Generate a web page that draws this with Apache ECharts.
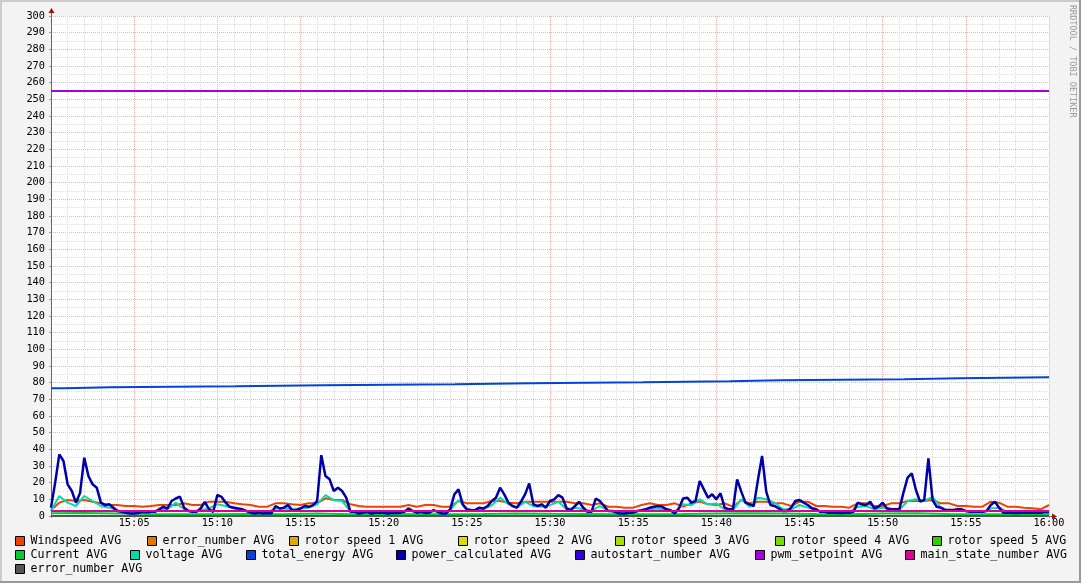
<!DOCTYPE html>
<html>
<head>
<meta charset="utf-8">
<script src="https://cdn.jsdelivr.net/npm/echarts@6/dist/echarts.min.js"></script>
<style>
html,body{margin:0;padding:0;background:#f3f3f3;}
#chart{width:1081px;height:583px;}
</style>
</head>
<body>
<div id="chart"></div>
<script>
// ---------------- DATA ----------------
// time axis: minutes after 15:00
const xTickLabels = ['15:05','15:10','15:15','15:20','15:25','15:30','15:35','15:40','15:45','15:50','15:55','16:00'];
const seriesNames = ['Windspeed AVG','error_number AVG','rotor speed 1 AVG','rotor speed 2 AVG','rotor speed 3 AVG','rotor speed 4 AVG','rotor speed 5 AVG','Current AVG','voltage AVG','total_energy AVG','power_calculated AVG','autostart_number AVG','pwm_setpoint AVG','main_state_number AVG','error_number AVG #2'];
const seriesColors = ['#ee4400','#dd7700','#ddaa00','#dddd00','#aadd00','#77dd00','#33cc00','#00cc33','#00ddaa','#0044dd','#0000aa','#3300dd','#aa00dd','#dd0099','#555555'];

// power_calculated, one value every 0.25 min
const powerStep = 0.25;
const powerCalculated = [
5,20,37,33, 19,15,8,14, 35,24,19,17, 8,6.5,7,5,
3,2.5,2,1.5, 1.5,1.8,2.5,2.2, 2.5,2.5,4,5.5, 4.5,9,10.5,11.6,
5,3,2.5,2.5, 4.5,8.5,4,2.5, 12.6,11.5,8,5.5, 5,4.5,4,3,
2,1.5,2,1.5, 1.8,1.5,6,4.5, 5,6.5,3.5,3.5, 4.5,6,5.5,6.5,
9,36.5,24,22, 15,17,15,11, 2.5,2.5,1.5,2, 2.5,1.5,2,2,
2,1.5,2,1.8, 2,2.5,4.5,3, 2,2.5,1.8,2, 3.5,2.5,1.5,1.5,
4,13,16,7, 4,3.5,3.5,5, 4.5,6,9,11, 17,13,8,6,
5,8.5,13,19.5, 7,6,7,5, 9,10,12.5,11, 4.5,3.5,6,8.5,
5,2.5,2.5,10.5, 9,6,3,3, 2,1.5,1.5,2, 2,3,3.5,4,
5,5.5,6,5.5, 4,3.5,1.5,4.5, 10.5,11,8,9, 21,16,11,13,
10,13.6,5,4, 4,22,14.6,8, 7,6,21.6,36, 14.6,6.6,6,4.6,
3,3,5,9, 9.6,8,6.6,4.6, 4,2.5,2.5,2, 2,2,1.8,2,
2,2.5,8,7, 6.5,8.6,4.6,5.6, 8,4.6,4,4, 4,14,23,25.6,
15.6,8.6,9.6,34.6, 9.6,5.5,5,3.6, 3.6,3.6,4,4, 3,2.5,2.5,2.5,
2.5,3,6.6,8.6, 5,2,2,2, 1.8,2,2,2, 2,2,2,2.5,
2.5
];

// voltage and windspeed, one value every 0.5 min
const halfStep = 0.5;
const voltage = [
3,12,8,6,12,9,6,5,3.5,2.5,
2.5,2.5,2.5,3.5,4,8,4,3,3.5,4.5,
7,6,4.5,3.5,2.5,2.5,2.5,4.5,4.5,4,
4.5,5,7,12.5,9.5,9,3,2.5,2.5,2.5,
2.5,2.5,2.5,3.5,2.5,2.5,3,2.5,3.5,9.5,
4,3.5,4,6.5,11,7,5,8.5,6,5.5,
6.5,8.5,4,5,4,3,6,3,2.5,2.5,
2.5,3,4,4.5,3.5,2.5,7,6.5,10,7,
7.5,4,3.5,10,5.5,11,10,8,4,4,
6.6,5,3.5,2.5,2.5,2.5,2.5,5.5,6,4,
5,3.5,3.5,9,10,9,11.5,5,3,3.5,
3,2.5,2.5,4.5,5,2.5,2.5,2.5,2.5,2.5,
2.5
];
const windspeed = [
3.6,8,9.6,9,9.6,8.6,7.6,6.6,6.6,6,
6,5.6,6,6.6,6.6,6.6,7.6,6.6,6.6,8.6,
8.6,8.6,7.6,7,6.6,5.6,5.6,7.6,7.6,7,
6.6,7.6,7.6,10.6,9.6,9.6,7,6,5.6,5.6,
5.6,5.6,5.6,6.6,5.6,6.6,6.6,5.6,5.6,9,
7.6,7.6,7.6,9,9,8,7.6,8.6,8.6,8.6,
8.6,8.6,8.6,7.6,7.6,6.6,7.6,5.6,5.6,5,
5,6.6,7.6,6.6,6.6,7.6,5.6,7.6,8.6,7,
6.6,7.6,5.6,9.6,7.6,8.6,8.6,7.6,7.6,6,
8.6,8.6,6,6,5.6,5.6,5,7.6,7.6,6,
6,7.6,7.6,9,9,9,9.6,7.6,7.6,6,
6,5.6,5.6,8.6,8,5.6,5.6,5,4.6,4,
6.6
];

// current, one value every 2 min
const twoStep = 2;
const current = [1.6,1.8,1.5,1.2,1.0,1.0,1.2,1.0,1.5,1.0,1.2,1.0,1.0,1.2,1.5,1.3,1.2,1.0,1.0,1.2,1.5,1.6,1.5,1.2,1.0,1.5,1.6,1.2,1.0,1.0,1.2];

// constant-ish series, one value every 10 min
const tenStep = 10;
const pwmSetpoint = [255,255,255,255,255,255,255];
const mainState = [3,3,3,3,3,3,3];
const errorNumber = [0,0,0,0,0,0,0];
const rotorSpeed1 = [0,0,0,0,0,0,0];
const rotorSpeed2 = [0,0,0,0,0,0,0];
const rotorSpeed3 = [0,0,0,0,0,0,0];
const rotorSpeed4 = [0,0,0,0,0,0,0];
const rotorSpeed5 = [0,0,0,0,0,0,0];
const autostart = [0,0,0,0,0,0,0];
const errorNumber2 = [0,0,0,0,0,0,0];

// total_energy: change points (minute, value)
const energyTimes = [0,0.8,3.6,11.1,16.4,24.3,28.8,35.6,40.8,43.8,51.3,54.6,60];
const energyValues = [76.6,77.2,77.8,78.4,79.0,79.6,80.2,80.8,81.4,82.0,82.6,83.2,83.2];

// ---------------- LAYOUT ----------------
const G = {left:51, right:32, top:16, bottom:67};
const legendRows = [535, 549, 563];
const legendPos = [
  [15,0],[147,0],[289,0],[458,0],[615,0],[775,0],[932,0],
  [15,1],[130,1],[246,1],[396,1],[575,1],[755,1],[905,1],
  [15,2]
];
const mono = 'DejaVu Sans Mono';

function pairs(arr, step){ return arr.map((v,i)=>[i*step, v]); }

const seriesData = [
  pairs(windspeed, halfStep),
  pairs(errorNumber, tenStep),
  pairs(rotorSpeed1, tenStep),
  pairs(rotorSpeed2, tenStep),
  pairs(rotorSpeed3, tenStep),
  pairs(rotorSpeed4, tenStep),
  pairs(rotorSpeed5, tenStep),
  pairs(current, twoStep),
  pairs(voltage, halfStep),
  energyTimes.map((t,i)=>[t, energyValues[i]]),
  pairs(powerCalculated, powerStep),
  pairs(autostart, tenStep),
  pairs(pwmSetpoint, tenStep),
  pairs(mainState, tenStep),
  pairs(errorNumber2, tenStep)
];

const series = seriesNames.map((n,i)=>({
  name:n, type:'line', data:seriesData[i], showSymbol:false, symbol:'none',
  step: i===9 ? 'end' : false,
  lineStyle:{width: i===10 ? 2.5 : 2, color:seriesColors[i]},
  itemStyle:{color:seriesColors[i]},
  emphasis:{disabled:true}, silent:true
}));

const legends = seriesNames.map((n,i)=>({
  data:[n], left:legendPos[i][0], top:legendRows[legendPos[i][1]],
  orient:'horizontal', padding:0, icon:'rect', itemWidth:9, itemHeight:9,
  itemStyle:{borderColor:'#000', borderWidth:1},
  selectedMode:false,
  formatter:(name)=>name.replace(' #2',''),
  textStyle:{fontFamily:mono, fontSize:11.6, color:'#000', padding:[0,0,0,1]}
}));

const chart = echarts.init(document.getElementById('chart'), null, {renderer:'canvas'});
chart.setOption({
  animation:false,
  backgroundColor:'#f3f3f3',
  grid:{left:G.left, right:G.right, top:G.top, bottom:G.bottom, show:true, backgroundColor:'#ffffff', borderWidth:0},
  legend:legends,
  xAxis:{
    type:'value', min:0, max:60, interval:5,
    axisLine:{show:true, onZero:false, lineStyle:{color:'#666', width:1}},
    axisTick:{show:true, length:2, lineStyle:{color:'#999'}},
    minorTick:{show:false, splitNumber:5},
    axisLabel:{fontFamily:mono, fontSize:10.3, color:'#000', margin:2,
      formatter:(v)=>{ const k=Math.round(v/5); return k>=1 ? xTickLabels[k-1] : ''; }},
    splitLine:{show:true, lineStyle:{color:'#f0b0b0', type:[1,1], width:1}},
    minorSplitLine:{show:true, lineStyle:{color:'#dcdcdc', type:[1,1], width:1}}
  },
  yAxis:{
    type:'value', min:0, max:300, interval:10,
    axisLine:{show:true, lineStyle:{color:'#666', width:1}},
    axisTick:{show:true, length:2, lineStyle:{color:'#999'}},
    minorTick:{show:false, splitNumber:2},
    axisLabel:{fontFamily:mono, fontSize:10.3, color:'#000', margin:6},
    splitLine:{show:true, lineStyle:{color:'#f0b0b0', type:[1,1], width:1}},
    minorSplitLine:{show:true, lineStyle:{color:'#dcdcdc', type:[1,1], width:1}}
  },
  series:series
});

// decorations: frame, arrows, watermark
const p0 = chart.convertToPixel({gridIndex:0}, [0,0]);
const p1 = chart.convertToPixel({gridIndex:0}, [60,300]);
const ax = Math.round(p0[0]) + 0.5, ay = Math.round(p0[1]) + 0.5;
const topY = Math.round(p1[1]), rightX = Math.round(p1[0]);
chart.setOption({
  graphic:[
    {type:'rect', shape:{x:0,y:0,width:1081,height:2}, style:{fill:'#cbcbcb'}, silent:true},
    {type:'rect', shape:{x:0,y:0,width:2,height:583}, style:{fill:'#cbcbcb'}, silent:true},
    {type:'rect', shape:{x:1079,y:0,width:2,height:583}, style:{fill:'#999999'}, silent:true},
    {type:'rect', shape:{x:0,y:581,width:1081,height:2}, style:{fill:'#999999'}, silent:true},
    {type:'line', shape:{x1:ax,y1:topY,x2:ax,y2:topY-4}, style:{stroke:'#666',lineWidth:1}, silent:true},
    {type:'polygon', shape:{points:[[ax-3,topY-3],[ax+3,topY-3],[ax,topY-8]]}, style:{fill:'#a01010'}, silent:true},
    {type:'line', shape:{x1:rightX,y1:ay,x2:rightX+4,y2:ay}, style:{stroke:'#666',lineWidth:1}, silent:true},
    {type:'polygon', shape:{points:[[rightX+3,ay-3],[rightX+3,ay+3],[rightX+8,ay]]}, style:{fill:'#a01010'}, silent:true},
    {type:'text', x:1077, y:5, rotation:-Math.PI/2, silent:true,
      style:{text:'RRDTOOL / TOBI OETIKER', fontFamily:mono, fontSize:8.5, fill:'#999', textAlign:'left', textVerticalAlign:'top'}}
  ]
});
</script>
</body>
</html>
